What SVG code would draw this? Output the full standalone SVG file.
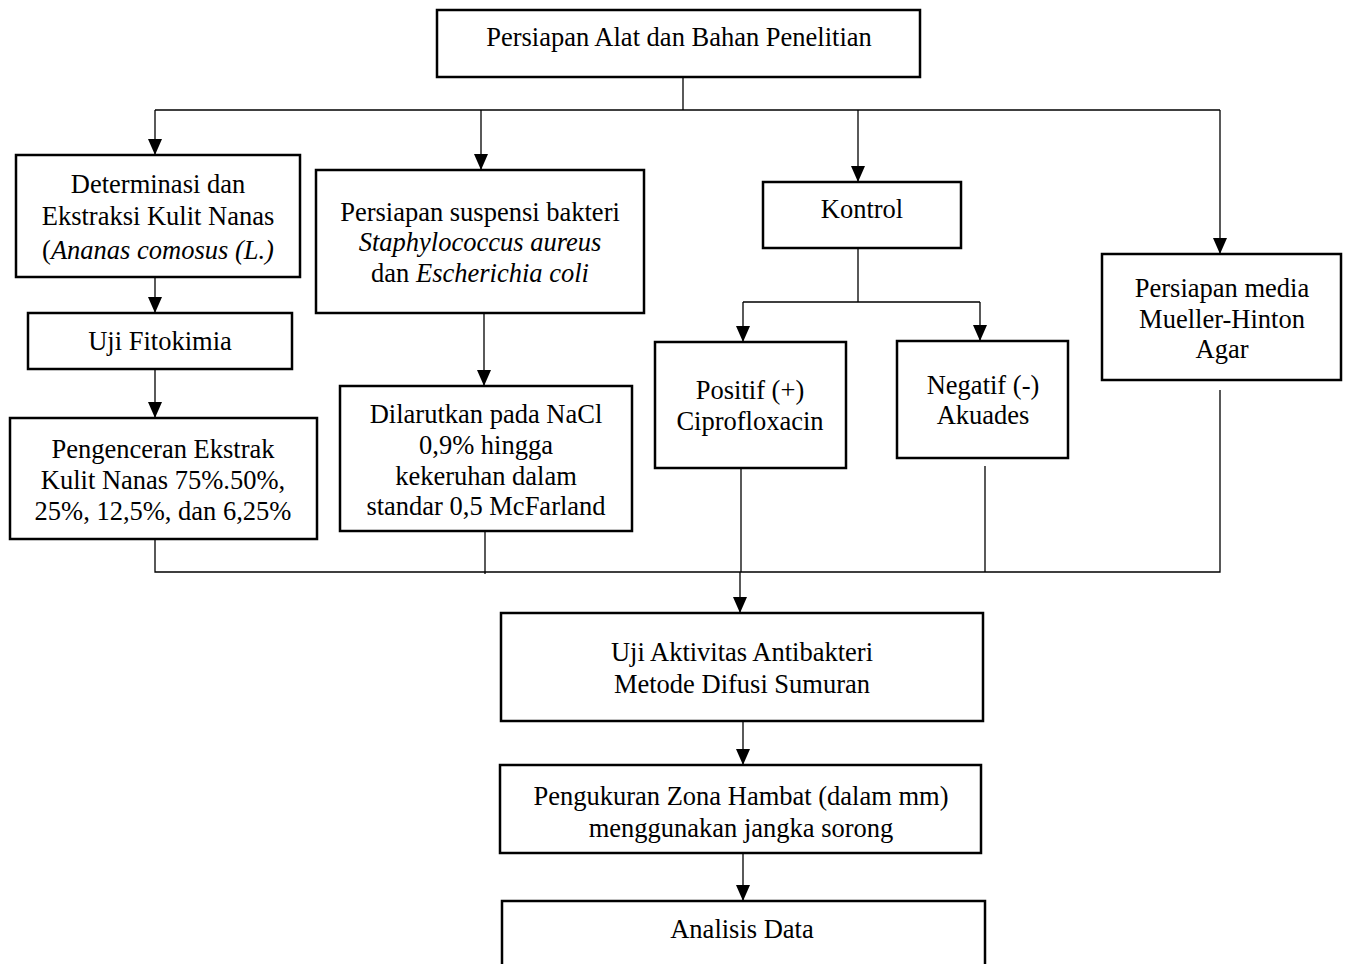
<svg xmlns="http://www.w3.org/2000/svg" width="1347" height="964" viewBox="0 0 1347 964">
<style>
.b{fill:#fff;stroke:#000;stroke-width:2.5}
.t{font-family:"Liberation Serif","Times New Roman",serif;font-size:26.5px;fill:#000;text-anchor:middle}
.i{font-style:italic}
.c{fill:none;stroke:#000;stroke-width:1.3}
</style>
<defs>
<marker id="a" markerUnits="userSpaceOnUse" markerWidth="16" markerHeight="14" viewBox="0 0 16 14" refX="16" refY="7" orient="auto">
<path d="M0,0 L16,7 L0,14 Z" fill="#000"/>
</marker>
</defs>
<rect width="1347" height="964" fill="#fff"/>
<g id="connectors">
<path class="c" d="M683,77 V110"/>
<path class="c" d="M155,110 H1220"/>
<path class="c" d="M155,110 V155" marker-end="url(#a)"/>
<path class="c" d="M481,110 V170" marker-end="url(#a)"/>
<path class="c" d="M858,110 V182" marker-end="url(#a)"/>
<path class="c" d="M1220,110 V254" marker-end="url(#a)"/>
<path class="c" d="M155,277 V313" marker-end="url(#a)"/>
<path class="c" d="M155,369 V418" marker-end="url(#a)"/>
<path class="c" d="M484,313 V386" marker-end="url(#a)"/>
<path class="c" d="M858,248 V302 M743,302 H980"/>
<path class="c" d="M743,302 V342" marker-end="url(#a)"/>
<path class="c" d="M980,302 V341" marker-end="url(#a)"/>
<path class="c" d="M155,539 V572 H1220 V390"/>
<path class="c" d="M155,539 H166"/>
<path class="c" d="M485,531 V574"/>
<path class="c" d="M741,468 V572"/>
<path class="c" d="M985,466 V572"/>
<path class="c" d="M740,572 V613" marker-end="url(#a)"/>
<path class="c" d="M743,721 V765" marker-end="url(#a)"/>
<path class="c" d="M743,853 V901" marker-end="url(#a)"/>
</g>
<g id="n1"><rect class="b" x="437" y="10" width="483" height="67"/><text class="t" x="679" y="46">Persiapan Alat dan Bahan Penelitian</text></g>
<g id="n2"><rect class="b" x="16" y="155" width="284" height="122"/>
<text class="t" x="158" y="193">Determinasi dan</text>
<text class="t" x="158" y="225">Ekstraksi Kulit Nanas</text>
<text class="t" x="158" y="259">(<tspan class="i">Ananas comosus (L.)</tspan></text></g>
<g id="n3"><rect class="b" x="28" y="313" width="264" height="56"/><text class="t" x="160" y="350">Uji Fitokimia</text></g>
<g id="n4"><rect class="b" x="10" y="418" width="307" height="121"/>
<text class="t" x="163" y="458">Pengenceran Ekstrak</text>
<text class="t" x="163" y="489">Kulit Nanas 75%.50%,</text>
<text class="t" x="163" y="520">25%, 12,5%, dan 6,25%</text></g>
<g id="n5"><rect class="b" x="316" y="170" width="328" height="143"/>
<text class="t" x="480" y="221">Persiapan suspensi bakteri</text>
<text class="t i" x="480" y="251">Staphylococcus aureus</text>
<text class="t" x="480" y="282">dan <tspan class="i">Escherichia coli</tspan></text></g>
<g id="n6"><rect class="b" x="340" y="386" width="292" height="145"/>
<text class="t" x="486" y="423">Dilarutkan pada NaCl</text>
<text class="t" x="486" y="454">0,9% hingga</text>
<text class="t" x="486" y="485">kekeruhan dalam</text>
<text class="t" x="486" y="515">standar 0,5 McFarland</text></g>
<g id="n7"><rect class="b" x="763" y="182" width="198" height="66"/><text class="t" x="862" y="218">Kontrol</text></g>
<g id="n8"><rect class="b" x="655" y="342" width="191" height="126"/>
<text class="t" x="750" y="399">Positif (+)</text>
<text class="t" x="750" y="430">Ciprofloxacin</text></g>
<g id="n9"><rect class="b" x="897" y="341" width="171" height="117"/>
<text class="t" x="983" y="394">Negatif (-)</text>
<text class="t" x="983" y="424">Akuades</text></g>
<g id="n10"><rect class="b" x="1102" y="254" width="239" height="126"/>
<text class="t" x="1222" y="297">Persiapan media</text>
<text class="t" x="1222" y="328">Mueller-Hinton</text>
<text class="t" x="1222" y="358">Agar</text></g>
<g id="n11"><rect class="b" x="501" y="613" width="482" height="108"/>
<text class="t" x="742" y="661">Uji Aktivitas Antibakteri</text>
<text class="t" x="742" y="693">Metode Difusi Sumuran</text></g>
<g id="n12"><rect class="b" x="500" y="765" width="481" height="88"/>
<text class="t" x="741" y="805">Pengukuran Zona Hambat (dalam mm)</text>
<text class="t" x="741" y="837">menggunakan jangka sorong</text></g>
<g id="n13"><rect class="b" x="502" y="901" width="483" height="80"/>
<text class="t" x="742" y="938">Analisis Data</text></g>
</svg>
